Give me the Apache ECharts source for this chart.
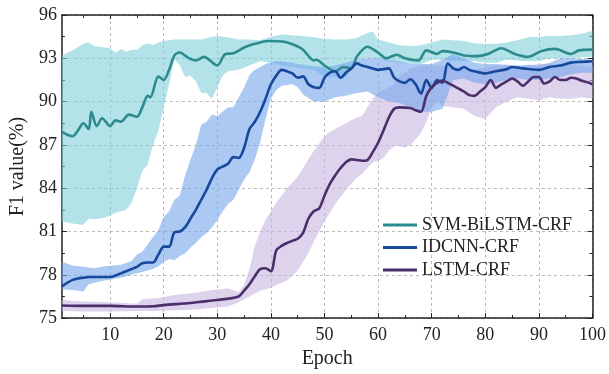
<!DOCTYPE html>
<html><head><meta charset="utf-8">
<script src="https://cdn.jsdelivr.net/npm/echarts@6/dist/echarts.min.js"></script>
<style>html,body{margin:0;padding:0;background:#fff}#c{width:609px;height:374px}</style>
</head><body><div id="c"></div>
<script>
const seriesNames = ['SVM-BiLSTM-CRF', 'IDCNN-CRF', 'LSTM-CRF'];
const xTicks = [10, 20, 30, 40, 50, 60, 70, 80, 90, 100];
const xMinorTicks = [5, 15, 25, 35, 45, 55, 65, 75, 85, 95];

// SVM-BiLSTM-CRF mean line
const svmEpoch = [1,2,3,4,5,6,6.5,7.5,8.5,10,11,12,13.5,15,16,17,17.5,19,20,21,22,23,24.5,26,27.5,30,31.5,33,35,37,39.5,42.5,44.5,46,48,48.5,50,52,53.5,55,56,58,60,61.5,63.5,65,67.5,69,71,72,74,76,78.5,80.5,83,85.5,88,90.5,93,96,97.5,100];
const svmF1 = [87.9,87.7,87.6,88.0,88.5,88.1,89.3,88.3,88.85,88.3,88.7,88.6,89.1,88.95,89.6,90.4,90.3,91.75,91.5,92.2,93.2,93.4,93.05,92.85,93.1,92.5,93.3,93.35,93.75,94.0,94.2,94.15,93.9,93.6,92.85,92.9,92.5,92.1,92.4,92.3,93.1,93.8,93.4,93.0,93.25,93.0,92.85,93.55,93.3,93.5,93.4,93.2,93.15,93.3,93.7,93.3,93.1,93.5,93.65,93.3,93.55,93.6];
// SVM-BiLSTM-CRF band
const svmBandEpoch = [1,3,5,6,7,9,10,11,12,13,14,15,16,17,18,19,20,21,22,23,24,25,26,27,28,29,30,31,32,34,36,38,40,42,44,46,48,50,52,54,56,58,59,60,62,64,66,68,70,72,74,76,78,80,82,84,86,88,90,92,94,96,98,100];
const svmHigh = [93.2,93.55,94.0,94.1,93.85,93.75,93.7,93.4,93.65,93.45,93.6,93.6,93.9,94.05,93.9,94.1,94.2,94.25,94.3,94.3,94.3,94.3,94.3,94.3,94.4,94.5,94.55,94.5,94.45,94.3,94.3,94.25,94.5,94.65,94.6,94.55,94.45,94.35,94.3,94.3,94.4,94.75,94.85,94.3,94.1,93.9,93.85,93.9,94.1,94.3,94.25,94.2,94.05,94.0,94.0,94.1,94.25,94.45,94.5,94.55,94.55,94.6,94.7,94.9];
const svmLow = [81.7,81.55,81.45,81.9,81.85,81.95,82.1,82.3,82.4,82.5,83.0,84.0,85.2,85.6,87.0,88.0,89.6,91.2,92.9,92.5,91.7,91.8,91.4,90.6,90.6,90.2,91.0,91.8,92.1,92.2,92.5,92.8,92.7,92.5,92.4,92.3,92.2,91.7,91.7,91.7,92.9,93.0,93.0,93.0,92.8,92.7,92.6,92.6,92.9,92.9,92.8,92.8,92.8,92.7,92.7,92.9,92.85,92.8,92.8,93.0,93.0,93.0,93.05,93.1];

// IDCNN-CRF mean line
const idEpoch = [1,2,3,4,5,6,8,10,11,12,13,14,15,16,17,18,19,20,21,22,23,24,25,26,27,28,29,30,31,32,33,34,35,36,37,38,39,40,41,42,43,44,45,46,47,48,49,50,51,52,53,54,55,56,57,58,59,60,61,62,63,64,65,66,67,68,69,70,71,72,73,74,75,76,77,78,80,82,84,85,87,90,92,94,96,98,100];
const idF1 = [77.2,77.45,77.65,77.75,77.8,77.85,77.85,77.85,77.95,78.1,78.25,78.4,78.55,78.8,78.85,78.85,79.4,79.95,79.95,80.95,81.0,81.3,81.9,82.5,83.2,83.9,84.7,85.3,85.5,85.7,86.15,86.1,86.8,88.1,88.6,89.3,90.2,91.2,91.8,92.2,92.1,91.95,91.65,91.75,91.2,91.0,90.95,91.65,92.0,92.1,91.65,92.0,92.3,92.65,92.5,92.4,92.3,92.2,92.25,92.3,91.65,91.4,91.3,91.55,91.2,90.55,91.5,90.95,91.5,91.3,92.65,92.3,92.2,92.4,92.2,92.1,91.95,92.1,92.25,92.4,92.3,92.2,92.4,92.5,92.7,92.75,92.8];
// IDCNN-CRF band
const idBandEpoch = [1,3,5,6,7,9,12,14,15,16,17,18,19,20,21,22,23,24,25,26,27,28,29,30,31,32,33,34,35,36,37,38,39,40,41,42,44,45,46,48,50,52,54,56,58,60,62,64,66,68,70,72,74,76,78,80,82,84,86,88,90,92,94,96,98,100];
const idHigh = [78.9,78.65,78.55,78.5,78.45,78.6,78.7,78.95,79.4,79.6,80.1,80.6,81.1,82.0,82.4,83.2,83.5,84.9,86.0,87.0,88.4,88.6,89.1,89.0,89.3,89.6,89.6,90.3,91.0,91.85,92.2,92.4,92.6,92.75,92.8,92.8,92.7,92.6,92.55,92.45,92.4,92.5,92.7,92.9,93.0,93.0,92.9,92.8,92.6,92.6,92.6,92.9,93.3,93.0,92.7,92.6,92.6,92.55,92.5,92.55,92.5,92.7,93.0,93.0,92.95,92.9];
const idLow = [77.0,76.95,76.85,77.35,77.45,77.6,77.8,78.0,78.1,78.2,78.3,78.4,78.6,78.9,79.1,79.0,79.3,79.5,79.9,80.2,80.6,80.9,81.3,81.8,82.4,82.9,83.2,83.9,84.6,85.1,86.0,87.2,88.8,90.2,90.8,91.1,91.2,91.0,90.5,90.0,90.0,90.3,90.4,90.6,90.7,90.3,90.0,89.9,89.6,89.3,89.3,89.5,91.5,91.6,91.3,91.2,91.3,91.5,91.6,91.5,91.5,91.6,91.7,91.9,92.0,92.0];

// LSTM-CRF mean line
const lstmEpoch = [1,5,10,15,18,20,25,30,33,34,35,36,37,38,39,40,41,42,43,44,45,46,47,48,49,50,51,52,53,54,55,56,57,58,59,60,61,62,63,64,66,67,68,69,70,71,72,73,74,75,76,77,78,79,80,81,82,83,84,85,86,87,88,89,90,91,92,93,94,95,96,97,98,99,100];
const lstmF1 = [75.87,75.85,75.85,75.8,75.82,75.9,76.05,76.25,76.4,76.5,76.9,77.35,77.9,78.4,78.45,78.25,79.7,80.0,80.2,80.35,80.5,80.9,81.9,82.4,82.6,83.5,84.3,84.9,85.4,85.8,86.0,85.95,85.9,85.95,86.5,87.15,88.0,88.9,89.5,89.6,89.55,89.4,89.3,90.4,91.0,91.3,91.45,91.3,91.1,90.9,90.7,90.45,90.4,90.7,91.0,91.5,90.95,91.2,91.4,91.6,91.4,91.1,91.4,91.7,91.7,91.25,91.4,91.7,91.5,91.5,91.65,91.6,91.45,91.35,91.2];
// LSTM-CRF band
const lstmBandEpoch = [1,5,10,15,16,19,22,26,29,32,34,35,36,37,38,39,40,41,43,45,47,48,50,51,52,54,55,56,57,58,59,60,61,62,63,64,65,66,67,68,69,70,71,72,74,76,78,80,82,84,86,88,90,92,94,96,98,100];
const lstmHigh = [76.25,76.15,76.1,76.0,76.3,76.4,76.6,76.75,76.95,77.05,76.8,77.3,78.4,80.0,81.0,81.8,82.4,83.0,84.0,84.8,86.0,86.6,87.6,87.9,88.1,88.5,88.7,88.9,89.0,89.6,90.2,90.6,90.8,91.0,91.2,91.8,92.0,92.3,92.4,92.5,92.5,92.5,92.5,92.5,92.4,92.3,92.2,92.4,92.5,92.5,92.4,92.5,92.6,92.6,92.5,92.6,92.5,92.4];
const lstmLow = [75.5,75.45,75.45,75.5,75.5,75.5,75.55,75.6,75.7,75.8,76.1,76.3,76.5,76.7,76.9,77.0,77.1,77.3,77.6,78.3,79.5,80.3,81.7,82.3,82.9,83.9,84.3,84.7,85.0,85.4,85.8,85.9,86.1,86.6,86.9,86.9,86.8,87.0,87.4,87.8,88.6,89.6,90.0,89.7,89.6,89.5,89.0,88.8,89.6,90.0,90.3,90.2,90.1,90.3,90.2,90.2,90.3,90.2];

const FONT = '"Liberation Serif", "Times New Roman", serif';
const lineColors = ['#2b8b8f', '#17489c', '#4a2f6c'];
const bandColors = ['rgba(128,208,217,0.6)', 'rgba(198,182,223,0.6)', 'rgba(116,165,236,0.6)'];

function bandSeries(xs, lo, hi, color, z) {
  return {
    type: 'custom', silent: true, z: z, clip: true,
    data: xs.map((x, i) => [x, lo[i], hi[i]]),
    encode: { x: 0, y: [1, 2] },
    renderItem: function (params, api) {
      if (params.dataIndex !== 0) return null;
      const top = xs.map((x, i) => api.coord([x, hi[i]]));
      const bot = xs.map((x, i) => api.coord([x, lo[i]])).reverse();
      return { type: 'polygon', shape: { points: top.concat(bot) }, style: { fill: color } };
    }
  };
}
function mainLine(name, xs, ys, color) {
  return { type: 'line', name: name, data: xs.map((x, i) => [x, ys[i]]), symbol: 'none', smooth: 0.3, z: 5,
    lineStyle: { color: color, width: 2.6 }, itemStyle: { color: color } };
}

const series = [
  bandSeries(svmBandEpoch, svmLow, svmHigh, bandColors[0], 1),
  bandSeries(lstmBandEpoch, lstmLow, lstmHigh, bandColors[1], 2),
  bandSeries(idBandEpoch, idLow, idHigh, bandColors[2], 3),
  mainLine(seriesNames[0], svmEpoch, svmF1, lineColors[0]),
  mainLine(seriesNames[1], idEpoch, idF1, lineColors[1]),
  mainLine(seriesNames[2], lstmEpoch, lstmF1, lineColors[2])
];

const axisLineStyle = { color: '#222', width: 1.5 };
const tickLine = { color: '#222', width: 1 };

const chart = echarts.init(document.getElementById('c'), null, { renderer: 'canvas' });
chart.setOption({
  animation: false,
  backgroundColor: '#fff',
  textStyle: { fontFamily: FONT, color: '#222' },
  grid: { left: 57, right: 13, top: 15, bottom: 46 },
  legend: {
    data: seriesNames, orient: 'vertical', left: 378, top: 211,
    icon: 'rect', itemWidth: 34, itemHeight: 3, itemGap: 4.5,
    textStyle: { fontFamily: FONT, fontSize: 18, color: '#222' }
  },
  xAxis: [
    { type: 'value', min: 1, max: 100, position: 'bottom',
      name: 'Epoch', nameLocation: 'middle', nameGap: 24,
      nameTextStyle: { fontFamily: FONT, fontSize: 20, color: '#222' },
      axisLine: { lineStyle: axisLineStyle },
      axisTick: { inside: true, length: 5, customValues: xTicks, lineStyle: tickLine },
      axisLabel: { customValues: xTicks, margin: 8, fontFamily: FONT, fontSize: 18, color: '#222' },
      splitLine: { show: true, lineStyle: { color: '#bbb', type: [3, 3], width: 1 } } },
    { type: 'value', min: 1, max: 100, position: 'bottom', axisLine: { show: false },
      axisTick: { inside: true, length: 3, customValues: xMinorTicks, lineStyle: tickLine },
      axisLabel: { show: false }, splitLine: { show: false } },
    { type: 'value', min: 1, max: 100, position: 'top',
      axisLine: { lineStyle: axisLineStyle },
      axisTick: { inside: true, length: 4, customValues: xTicks, lineStyle: tickLine },
      axisLabel: { show: false }, splitLine: { show: false } },
    { type: 'value', min: 1, max: 100, position: 'top', axisLine: { show: false },
      axisTick: { inside: true, length: 3, customValues: xMinorTicks, lineStyle: tickLine },
      axisLabel: { show: false }, splitLine: { show: false } }
  ],
  yAxis: [
    { type: 'value', min: 75, max: 96, interval: 3, position: 'left',
      name: 'F1 value(%)', nameLocation: 'middle', nameGap: 30, nameRotate: 90,
      nameTextStyle: { fontFamily: FONT, fontSize: 20, color: '#222' },
      axisLine: { show: true, lineStyle: axisLineStyle },
      axisTick: { show: true, inside: true, length: 5, lineStyle: tickLine },
      minorTick: { show: true, splitNumber: 2, length: 3, lineStyle: tickLine },
      axisLabel: { margin: 5, fontFamily: FONT, fontSize: 18, color: '#222' },
      splitLine: { show: true, lineStyle: { color: '#bbb', type: [3, 3], width: 1 } } },
    { type: 'value', min: 75, max: 96, interval: 3, position: 'right',
      axisLine: { show: true, lineStyle: axisLineStyle },
      axisTick: { show: true, inside: true, length: 5, lineStyle: tickLine },
      minorTick: { show: true, splitNumber: 2, length: 3, lineStyle: tickLine },
      axisLabel: { show: false }, splitLine: { show: false } }
  ],
  series: series
});
</script>
</body></html>
